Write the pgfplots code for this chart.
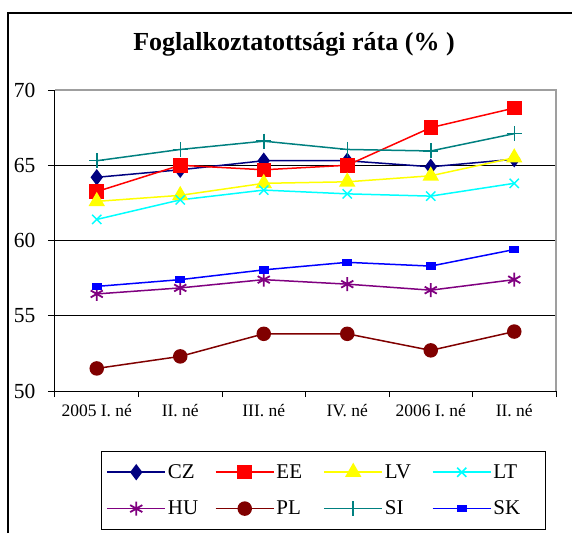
\documentclass[border=0pt]{standalone}
\usepackage{fontspec}
\setmainfont{Liberation Serif}
\usepackage{pgfplots}
\pgfplotsset{compat=1.18}
\definecolor{czc}{RGB}{0,0,128}
\definecolor{eec}{RGB}{255,0,0}
\definecolor{lvc}{RGB}{255,255,0}
\definecolor{ltc}{RGB}{0,255,255}
\definecolor{huc}{RGB}{128,0,128}
\definecolor{plc}{RGB}{128,0,0}
\definecolor{sic}{RGB}{0,128,128}
\definecolor{skc}{RGB}{0,0,255}
\begin{document}
\begin{tikzpicture}
\useasboundingbox (0,0) rectangle (572pt,-533pt);
\draw[line width=1.2pt] (8pt,-533pt) -- (8pt,-13pt) -- (572pt,-13pt);
\node[font=\fontsize{26}{30}\selectfont\bfseries] at (294pt,-44pt) {Foglalkoztatottsági ráta (\% )};
\begin{axis}[at={(55pt,-391pt)}, anchor=south west, scale only axis,
  width=501pt, height=301pt,
  xmin=-0.5, xmax=5.5, ymin=50, ymax=70, clip=false,
  axis x line*=bottom, axis y line*=left, axis line style={-, line width=1pt},
  xtick={0,...,5},
  xticklabels={2005 I. né, II. né, III. né, IV. né, 2006 I. né, II. né},
  major x tick style={draw=none},
  minor xtick={-0.5,0.5,...,5.5},
  ytick={50,55,...,70},
  ymajorgrids, grid style={black, line width=0.9pt},
  tick align=outside, major tick length=7pt, minor tick length=6pt,
  tick style={black, line width=1pt},
  /pgf/number format/assume math mode=true,
  yticklabel style={font=\fontsize{21.5}{25}\selectfont, xshift=-9pt},
  xticklabel style={font=\fontsize{17.5}{21}\selectfont, yshift=-3pt},
  legend columns=4,
  legend style={at={(axis description cs:0.0918,-0.1993)}, anchor=north west,
    draw=black, line width=1pt, font=\fontsize{21}{25}\selectfont,
    column sep=0pt, row sep=17pt, inner xsep=5pt, inner ysep=11pt,
    nodes={inner sep=2pt, anchor=west}},
  legend image code/.code={\draw[#1, mark repeat=2, mark phase=2] plot coordinates {(0pt,0pt)(29pt,0pt)(58pt,0pt)};},
]
\draw[gray!75, line width=1.5pt] (rel axis cs:0,1) -- (rel axis cs:1,1) -- (rel axis cs:1,0);
\addplot[czc, line width=1.5pt, mark=diamond*, mark size=7pt, mark options={solid}]
  coordinates {(0,64.2)(1,64.7)(2,65.3)(3,65.3)(4,64.9)(5,65.4)};
\addlegendentry{\makebox[45pt][l]{CZ}}
\addplot[eec, line width=1.5pt, mark=square*, mark size=6.5pt, mark options={solid}]
  coordinates {(0,63.25)(1,65.0)(2,64.7)(3,65.0)(4,67.5)(5,68.8)};
\addlegendentry{\makebox[45pt][l]{EE}}
\addplot[lvc, line width=1.5pt, mark=triangle*, mark size=8pt, mark options={solid}]
  coordinates {(0,62.6)(1,63.0)(2,63.8)(3,63.9)(4,64.3)(5,65.5)};
\addlegendentry{\makebox[45pt][l]{LV}}
\addplot[ltc, line width=1.5pt, mark=x, mark size=6.5pt, mark options={solid, line width=1.5pt}]
  coordinates {(0,61.4)(1,62.7)(2,63.35)(3,63.1)(4,62.95)(5,63.8)};
\addlegendentry{\makebox[45pt][l]{LT}}
\addplot[huc, line width=1.5pt, mark=asterisk, mark size=7pt, mark options={solid, line width=1.8pt}]
  coordinates {(0,56.45)(1,56.85)(2,57.4)(3,57.1)(4,56.7)(5,57.4)};
\addlegendentry{\makebox[45pt][l]{HU}}
\addplot[plc, line width=1.5pt, mark=*, mark size=6.5pt, mark options={solid}]
  coordinates {(0,51.5)(1,52.3)(2,53.8)(3,53.8)(4,52.7)(5,53.95)};
\addlegendentry{\makebox[45pt][l]{PL}}
\addplot[sic, line width=1.5pt, mark=+, mark size=7.5pt, mark options={solid, line width=1.5pt}]
  coordinates {(0,65.3)(1,66.05)(2,66.6)(3,66.05)(4,65.95)(5,67.1)};
\addlegendentry{\makebox[45pt][l]{SI}}
\addplot[skc, line width=1.5pt, mark=square*, mark size=3pt, mark options={solid, xscale=1.4}]
  coordinates {(0,56.95)(1,57.4)(2,58.05)(3,58.55)(4,58.3)(5,59.4)};
\addlegendentry{\makebox[45pt][l]{SK}}
\end{axis}
\end{tikzpicture}
\end{document}
